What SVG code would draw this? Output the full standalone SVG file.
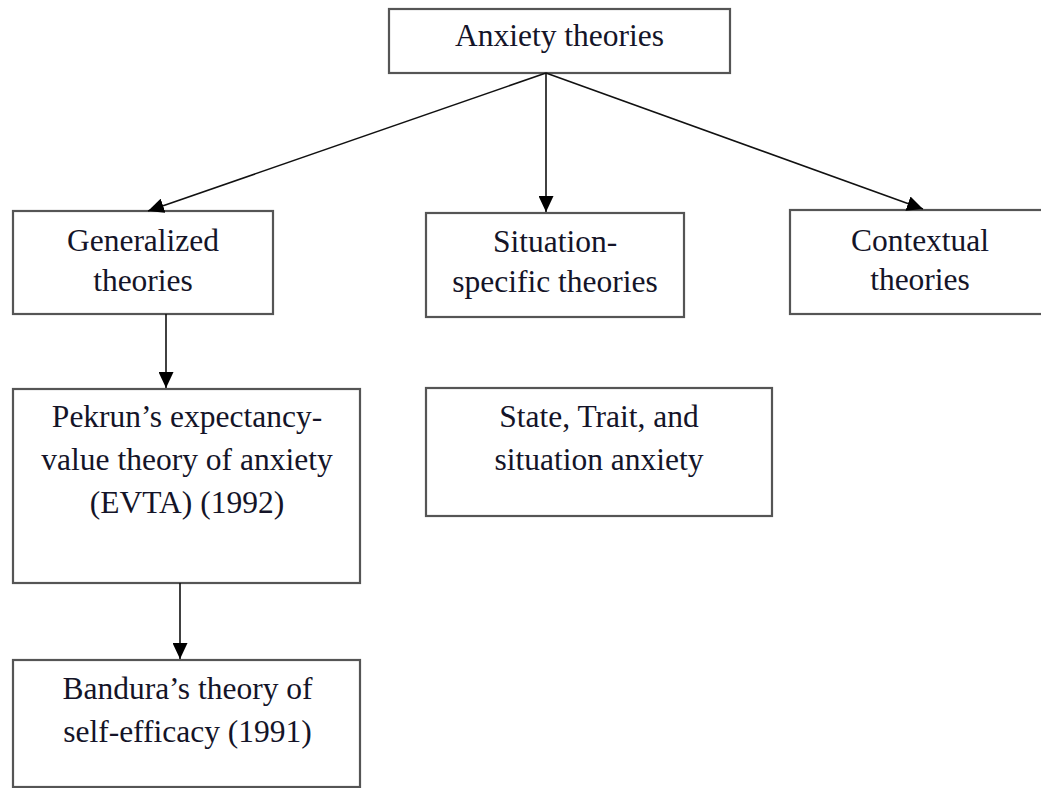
<svg xmlns="http://www.w3.org/2000/svg" width="1041" height="788" viewBox="0 0 1041 788">
<defs>
<marker id="arr" markerUnits="userSpaceOnUse" markerWidth="16" markerHeight="15" viewBox="0 0 16 15" refX="16" refY="7.5" orient="auto">
<path d="M0,0 L16,7.5 L0,15 Z" fill="#000"/>
</marker>
</defs>
<style>
.box{fill:#fff;stroke:#555;stroke-width:2.2}
.t{font-family:"Liberation Serif","Times New Roman",serif;font-size:31.5px;fill:#141428;text-anchor:middle}
.c{stroke:#111;stroke-width:1.6;fill:none;marker-end:url(#arr)}
</style>
<rect width="1041" height="788" fill="#fff"/>
<g id="n-root"><rect class="box" x="389" y="9" width="341" height="64"/><text class="t" x="559.5" y="46">Anxiety theories</text></g>
<g id="n-generalized"><rect class="box" x="13" y="211" width="260" height="103"/><text class="t" x="143" y="251">Generalized</text><text class="t" x="143" y="291">theories</text></g>
<g id="n-situation"><rect class="box" x="426" y="213" width="258" height="104"/><text class="t" x="555" y="252">Situation-</text><text class="t" x="555" y="292">specific theories</text></g>
<g id="n-contextual"><rect class="box" x="790" y="210" width="260" height="104"/><text class="t" x="920" y="251">Contextual</text><text class="t" x="920" y="290">theories</text></g>
<g id="n-pekrun"><rect class="box" x="13" y="389" width="347" height="194"/><text class="t" x="187" y="427">Pekrun’s expectancy-</text><text class="t" x="187" y="470">value theory of anxiety</text><text class="t" x="187" y="513">(EVTA) (1992)</text></g>
<g id="n-state"><rect class="box" x="426" y="388" width="346" height="128"/><text class="t" x="599" y="427">State, Trait, and</text><text class="t" x="599" y="470">situation anxiety</text></g>
<g id="n-bandura"><rect class="box" x="13" y="660" width="347" height="127"/><text class="t" x="187.5" y="699">Bandura’s theory of</text><text class="t" x="187.5" y="742">self-efficacy (1991)</text></g>
<g id="connectors">
<line class="c" x1="546" y1="73" x2="148" y2="211"/>
<line class="c" x1="546" y1="73" x2="546" y2="212"/>
<line class="c" x1="546" y1="73" x2="923" y2="209"/>
<line class="c" x1="166" y1="314" x2="166" y2="388"/>
<line class="c" x1="180" y1="583" x2="180" y2="659"/>
</g>
</svg>
